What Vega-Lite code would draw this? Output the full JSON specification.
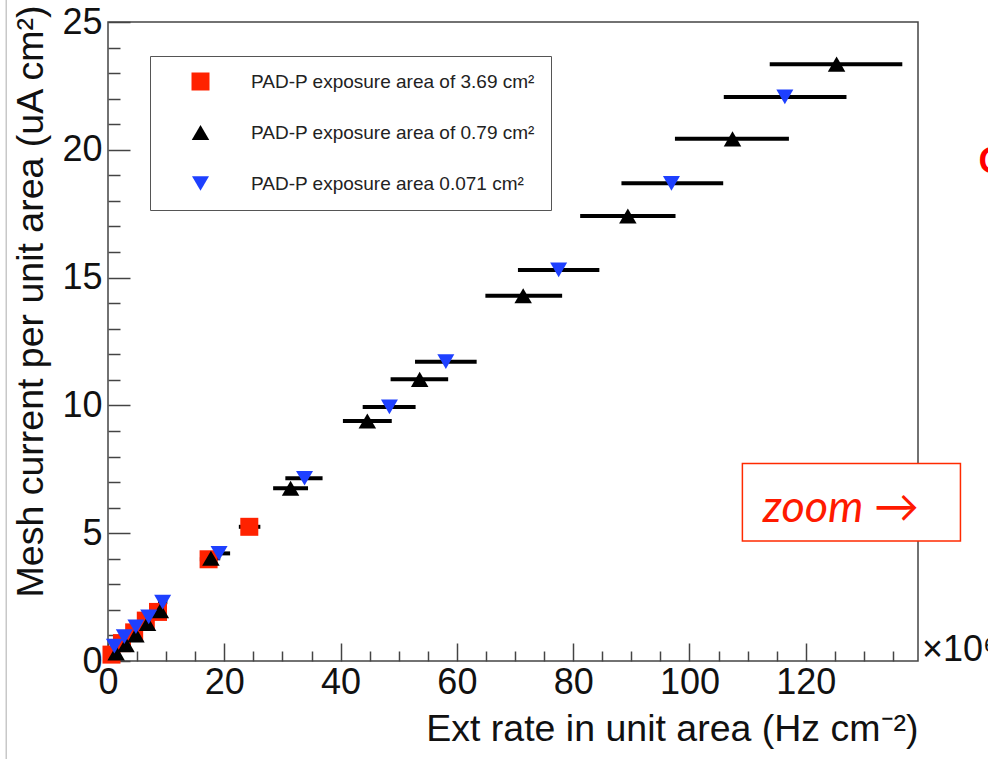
{
  "$schema": "https://vega.github.io/schema/vega-lite/v6.json",
  "width": 810,
  "height": 639,
  "autosize": {"type": "none"},
  "padding": {"left": 108, "top": 22, "right": 70, "bottom": 98},
  "background": "white",
  "config": {
    "view": {"stroke": "#444", "strokeWidth": 1.5},
    "font": "Liberation Sans",
    "axis": {
      "domain": false, "grid": false,
      "labelFont": "Liberation Sans", "labelFontSize": 36, "labelColor": "#111",
      "titleFont": "Liberation Sans", "titleFontSize": 37.5, "titleFontWeight": "normal", "titleColor": "#111",
      "tickColor": "#444", "tickWidth": 1.5, "labelOverlap": false, "labelFlush": false
    }
  },
  "datasets": {
    "pts": [
      {"s": "PAD-P exposure area of 3.69 cm²", "x": 0.6, "y": 0.25, "xlo": 0.55, "xhi": 0.65},
      {"s": "PAD-P exposure area of 3.69 cm²", "x": 2.4, "y": 0.7, "xlo": 2.2, "xhi": 2.6},
      {"s": "PAD-P exposure area of 3.69 cm²", "x": 4.5, "y": 1.12, "xlo": 4.15, "xhi": 4.85},
      {"s": "PAD-P exposure area of 3.69 cm²", "x": 6.5, "y": 1.58, "xlo": 6.0, "xhi": 7.0},
      {"s": "PAD-P exposure area of 3.69 cm²", "x": 8.6, "y": 1.92, "xlo": 7.9, "xhi": 9.3},
      {"s": "PAD-P exposure area of 3.69 cm²", "x": 17.3, "y": 3.98, "xlo": 15.8, "xhi": 18.8},
      {"s": "PAD-P exposure area of 3.69 cm²", "x": 24.3, "y": 5.25, "xlo": 22.5, "xhi": 26.2},
      {"s": "PAD-P exposure area of 0.79 cm²", "x": 1.4, "y": 0.32, "xlo": 1.3, "xhi": 1.5},
      {"s": "PAD-P exposure area of 0.79 cm²", "x": 3.1, "y": 0.64, "xlo": 2.8, "xhi": 3.4},
      {"s": "PAD-P exposure area of 0.79 cm²", "x": 4.8, "y": 1.02, "xlo": 4.4, "xhi": 5.2},
      {"s": "PAD-P exposure area of 0.79 cm²", "x": 6.8, "y": 1.47, "xlo": 6.2, "xhi": 7.4},
      {"s": "PAD-P exposure area of 0.79 cm²", "x": 9.0, "y": 1.97, "xlo": 8.2, "xhi": 9.8},
      {"s": "PAD-P exposure area of 0.79 cm²", "x": 17.7, "y": 4.02, "xlo": 16.1, "xhi": 19.3},
      {"s": "PAD-P exposure area of 0.79 cm²", "x": 31.4, "y": 6.76, "xlo": 28.4, "xhi": 34.4},
      {"s": "PAD-P exposure area of 0.79 cm²", "x": 44.6, "y": 9.39, "xlo": 40.4, "xhi": 48.8},
      {"s": "PAD-P exposure area of 0.79 cm²", "x": 53.6, "y": 11.02, "xlo": 48.6, "xhi": 58.5},
      {"s": "PAD-P exposure area of 0.79 cm²", "x": 71.4, "y": 14.29, "xlo": 64.9, "xhi": 78.1},
      {"s": "PAD-P exposure area of 0.79 cm²", "x": 89.4, "y": 17.41, "xlo": 81.2, "xhi": 97.6},
      {"s": "PAD-P exposure area of 0.79 cm²", "x": 107.4, "y": 20.43, "xlo": 97.5, "xhi": 117.1},
      {"s": "PAD-P exposure area of 0.79 cm²", "x": 125.3, "y": 23.35, "xlo": 113.8, "xhi": 136.6},
      {"s": "PAD-P exposure area 0.071 cm²", "x": 1.1, "y": 0.58, "xlo": 1.0, "xhi": 1.2},
      {"s": "PAD-P exposure area 0.071 cm²", "x": 2.8, "y": 0.95, "xlo": 2.5, "xhi": 3.1},
      {"s": "PAD-P exposure area 0.071 cm²", "x": 4.8, "y": 1.34, "xlo": 4.4, "xhi": 5.2},
      {"s": "PAD-P exposure area 0.071 cm²", "x": 7.0, "y": 1.73, "xlo": 6.4, "xhi": 7.6},
      {"s": "PAD-P exposure area 0.071 cm²", "x": 9.4, "y": 2.3, "xlo": 8.6, "xhi": 10.2},
      {"s": "PAD-P exposure area 0.071 cm²", "x": 19.1, "y": 4.21, "xlo": 17.3, "xhi": 21.0},
      {"s": "PAD-P exposure area 0.071 cm²", "x": 33.8, "y": 7.15, "xlo": 30.5, "xhi": 36.9},
      {"s": "PAD-P exposure area 0.071 cm²", "x": 48.4, "y": 9.94, "xlo": 43.8, "xhi": 52.9},
      {"s": "PAD-P exposure area 0.071 cm²", "x": 58.1, "y": 11.71, "xlo": 52.8, "xhi": 63.4},
      {"s": "PAD-P exposure area 0.071 cm²", "x": 77.5, "y": 15.3, "xlo": 70.5, "xhi": 84.5},
      {"s": "PAD-P exposure area 0.071 cm²", "x": 96.9, "y": 18.69, "xlo": 88.3, "xhi": 105.8},
      {"s": "PAD-P exposure area 0.071 cm²", "x": 116.4, "y": 22.07, "xlo": 105.9, "xhi": 127.0}
    ]
  },
  "layer": [
    {
      "data": {"values": [{"x": -17.5, "ytop": 25.9, "ybot": -3.9}]},
      "mark": {"type": "rule", "color": "#c8c8c8", "strokeWidth": 1.5},
      "encoding": {
        "x": {"field": "x", "type": "quantitative", "scale": {"domain": [0, 139.3], "nice": false, "zero": false}},
        "y": {"field": "ytop", "type": "quantitative", "scale": {"domain": [0, 25], "nice": false}},
        "y2": {"field": "ybot"}
      }
    },
    {
      "data": {"name": "pts"},
      "mark": {"type": "rule", "color": "black", "strokeWidth": 4},
      "encoding": {
        "x": {"field": "xlo", "type": "quantitative"},
        "x2": {"field": "xhi"},
        "y": {"field": "y", "type": "quantitative"}
      }
    },
    {
      "data": {"name": "pts"},
      "mark": {"type": "point", "filled": true, "opacity": 1, "strokeWidth": 0},
      "encoding": {
        "x": {
          "field": "x", "type": "quantitative",
          "axis": {
            "values": [0,5,10,15,20,25,30,35,40,45,50,55,60,65,70,75,80,85,90,95,100,105,110,115,120,125,130,135],
            "tickCount": 200,
            "format": "d",
            "tickSize": {"condition": {"test": "datum.value % 20 === 0", "value": -18}, "value": -10},
            "labelExpr": "datum.value % 20 === 0 ? datum.label : ''",
            "labelOverlap": false,
            "labelPadding": 22,
            "title": "Ext rate in unit area (Hz cm⁻²)",
            "titleAnchor": "end", "titleAlign": "right", "titleBaseline": "alphabetic",
            "titleX": 810, "titleY": 79
          }
        },
        "y": {
          "field": "y", "type": "quantitative",
          "axis": {
            "values": [0,1,2,3,4,5,6,7,8,9,10,11,12,13,14,15,16,17,18,19,20,21,22,23,24,25],
            "tickCount": 200,
            "format": "d",
            "tickSize": {"condition": {"test": "datum.value % 5 === 0", "value": -22}, "value": -12},
            "labelExpr": "datum.value % 5 === 0 ? datum.label : ''",
            "labelOverlap": false,
            "labelPadding": 28,
            "title": "Mesh current per unit area (uA cm²)",
            "titleAnchor": "end", "titleAngle": -90, "titleAlign": "right", "titleBaseline": "alphabetic",
            "titleX": -66, "titleY": -17
          }
        },
        "shape": {
          "field": "s", "type": "nominal",
          "scale": {"domain": ["PAD-P exposure area of 3.69 cm²", "PAD-P exposure area of 0.79 cm²", "PAD-P exposure area 0.071 cm²"], "range": ["square", "triangle-up", "triangle-down"]},
          "legend": {
            "orient": "none", "legendX": 42, "legendY": 34, "title": null,
            "padding": 16, "strokeColor": "#555", "fillColor": "white",
            "labelFont": "Liberation Sans", "labelFontSize": 19, "labelColor": "#222", "labelLimit": 0,
            "symbolOffset": 25, "labelOffset": 41, "rowPadding": 31, "symbolStrokeWidth": 0
          }
        },
        "color": {
          "field": "s", "type": "nominal",
          "scale": {"domain": ["PAD-P exposure area of 3.69 cm²", "PAD-P exposure area of 0.79 cm²", "PAD-P exposure area 0.071 cm²"], "range": ["#ff2200", "#000000", "#1e40ff"]}
        },
        "size": {
          "field": "s", "type": "nominal",
          "scale": {"domain": ["PAD-P exposure area of 3.69 cm²", "PAD-P exposure area of 0.79 cm²", "PAD-P exposure area 0.071 cm²"], "range": [324, 289, 289]}
        }
      }
    },
    {
      "data": {"values": [{"x": 139.3, "y": 0, "t": "×10⁶"}]},
      "mark": {"type": "text", "align": "left", "baseline": "alphabetic", "dx": 4, "fontSize": 36, "font": "Liberation Sans", "color": "#111"},
      "encoding": {
        "x": {"field": "x", "type": "quantitative"},
        "y": {"field": "y", "type": "quantitative"},
        "text": {"field": "t"}
      }
    },
    {
      "data": {"values": [{"x1": 109.1, "x2": 146.6, "y1": 4.69, "y2": 7.73}]},
      "mark": {"type": "rect", "fill": "white", "stroke": "#ff2a00", "strokeWidth": 1.5},
      "encoding": {
        "x": {"field": "x1", "type": "quantitative"},
        "x2": {"field": "x2"},
        "y": {"field": "y1", "type": "quantitative"},
        "y2": {"field": "y2"}
      }
    },
    {
      "data": {"values": [{"x": 112.6, "y": 5.44, "t": "zoom →"}]},
      "mark": {"type": "text", "align": "left", "baseline": "alphabetic", "fontSize": 45, "font": "Lato", "fontStyle": "italic", "color": "#ff1a00"},
      "encoding": {
        "x": {"field": "x", "type": "quantitative"},
        "y": {"field": "y", "type": "quantitative"},
        "text": {"field": "t"}
      }
    },
    {
      "data": {"values": [{"x": 149.7, "y": 19.1, "t": "O"}]},
      "mark": {"type": "text", "align": "left", "baseline": "alphabetic", "fontSize": 36, "font": "Liberation Sans", "fontWeight": "bold", "color": "#ff0000"},
      "encoding": {
        "x": {"field": "x", "type": "quantitative"},
        "y": {"field": "y", "type": "quantitative"},
        "text": {"field": "t"}
      }
    }
  ]
}
